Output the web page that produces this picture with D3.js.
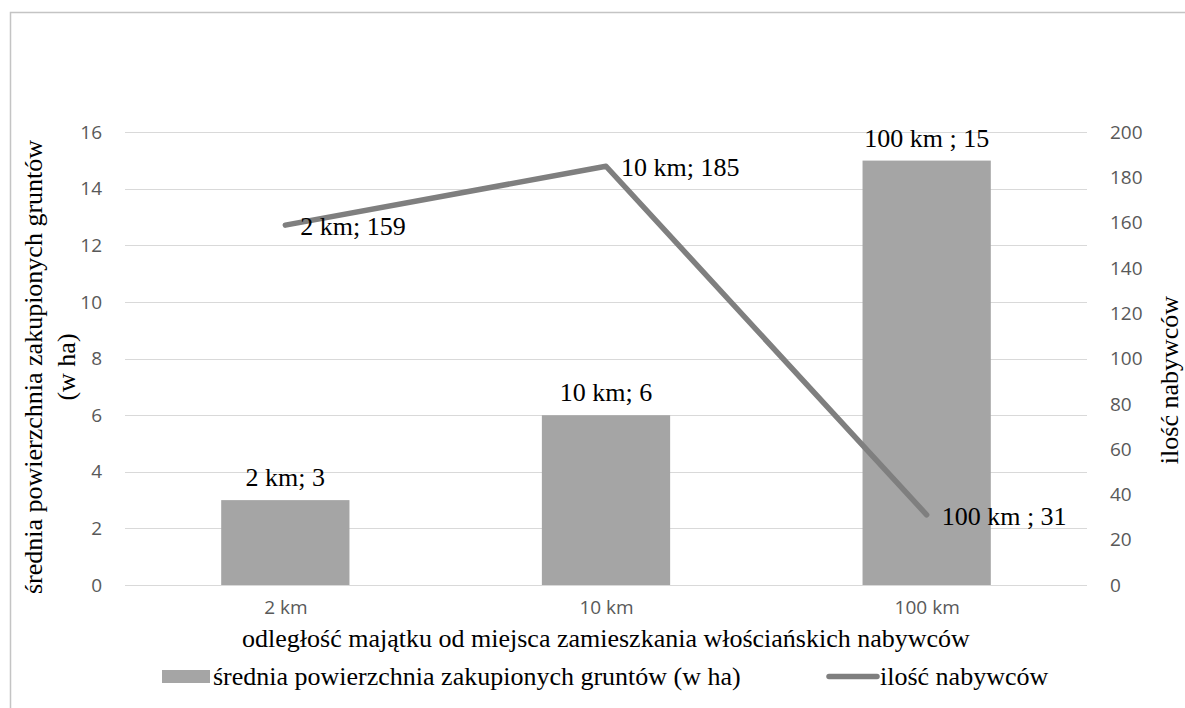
<!DOCTYPE html>
<html><head><meta charset="utf-8">
<script src="https://cdn.jsdelivr.net/npm/d3@7"></script>
<style>
html,body{margin:0;padding:0;background:#fff;}
svg{display:block;}
.serif{font-family:"Liberation Serif","Tinos","Times New Roman","DejaVu Serif",serif;}
.sans{font-family:"Open Sans","Noto Sans",sans-serif;}
</style>
</head><body>
<svg id="chart" width="1185" height="708"></svg>
<script>
const categories = ["2 km", "10 km", "100 km"];
const areaValues = [3, 6, 15];
const buyerValues = [159, 185, 31];
const barLabels = ["2 km; 3", "10 km; 6", "100 km ; 15"];
const lineLabels = ["2 km; 159", "10 km; 185", "100 km ; 31"];
const leftTicks = [0, 2, 4, 6, 8, 10, 12, 14, 16];
const rightTicks = [0, 20, 40, 60, 80, 100, 120, 140, 160, 180, 200];
const xTitle = "odległość majątku od miejsca zamieszkania włościańskich nabywców";
const yLeftTitle = ["średnia powierzchnia zakupionych gruntów", "(w ha)"];
const yRightTitle = "ilość nabywców";
const legendBar = "średnia powierzchnia zakupionych gruntów (w ha)";
const legendLine = "ilość nabywców";

const svg = d3.select("#chart");

// frame
svg.append("rect").attr("x", 10.5).attr("y", 12.5).attr("width", 1200).attr("height", 800)
  .attr("fill", "#fff").attr("stroke", "#c4c4c4").attr("stroke-width", 1.5);

const plot = {left: 125, right: 1087, top: 132.3, bottom: 585};

const x = d3.scaleBand().domain(categories).range([plot.left, plot.right]).paddingInner(0.6).paddingOuter(0.3);
const xc = d3.scalePoint().domain(categories).range([plot.left, plot.right]).padding(0.5);
const yL = d3.scaleLinear().domain([0, 16]).range([plot.bottom, plot.top]);
const yR = d3.scaleLinear().domain([0, 200]).range([plot.bottom, plot.top]);

// gridlines
svg.append("g").selectAll("line").data(leftTicks).join("line")
  .attr("x1", plot.left).attr("x2", plot.right)
  .attr("y1", d => Math.round(yL(d)) + 0.5).attr("y2", d => Math.round(yL(d)) + 0.5)
  .attr("stroke", "#d9d9d9").attr("stroke-width", 1.2);

function styleTicks(g) {
  g.select(".domain").remove();
  g.selectAll("text").attr("class", "sans").attr("font-family", null)
    .attr("font-size", 19).attr("fill", "#595959");
}

// left axis
svg.append("g").attr("transform", `translate(${plot.left},0)`)
  .call(d3.axisLeft(yL).tickValues(leftTicks).tickSize(0).tickPadding(23))
  .call(styleTicks).attr("font-family", null);

// right axis
svg.append("g").attr("transform", `translate(${plot.right},0)`)
  .call(d3.axisRight(yR).tickValues(rightTicks).tickSize(0).tickPadding(23))
  .call(styleTicks).attr("font-family", null);

// bottom axis
svg.append("g").attr("transform", `translate(0,${plot.bottom})`)
  .call(d3.axisBottom(xc).tickSize(0).tickPadding(16))
  .call(styleTicks).attr("font-family", null);

// bars
svg.append("g").selectAll("rect").data(areaValues).join("rect")
  .attr("x", (d, i) => x(categories[i]))
  .attr("width", x.bandwidth())
  .attr("y", d => yL(d))
  .attr("height", d => yL(0) - yL(d))
  .attr("fill", "#a5a5a5");

// bar labels
svg.append("g").selectAll("text").data(areaValues).join("text")
  .attr("class", "serif")
  .attr("x", (d, i) => xc(categories[i]))
  .attr("y", d => yL(d) - 14)
  .attr("text-anchor", "middle")
  .attr("font-size", 26).attr("fill", "#000")
  .text((d, i) => barLabels[i]);

// line
const line = d3.line().x((d, i) => xc(categories[i])).y(d => yR(d));
svg.append("path").datum(buyerValues).attr("d", line)
  .attr("fill", "none").attr("stroke", "#7f7f7f").attr("stroke-width", 5.5)
  .attr("stroke-linecap", "round").attr("stroke-linejoin", "round");

// line labels
svg.append("g").selectAll("text").data(buyerValues).join("text")
  .attr("class", "serif")
  .attr("x", (d, i) => xc(categories[i]) + 15)
  .attr("y", d => yR(d) + 10)
  .attr("font-size", 26).attr("fill", "#000")
  .text((d, i) => lineLabels[i]);

// x title
svg.append("text").attr("class", "serif").attr("x", (plot.left + plot.right) / 2).attr("y", 647)
  .attr("text-anchor", "middle").attr("font-size", 26).attr("fill", "#000")
  .text(xTitle);

// left y title
const lt = svg.append("text").attr("class", "serif").attr("transform", "translate(0,367) rotate(-90)")
  .attr("text-anchor", "middle").attr("font-size", 26).attr("fill", "#000");
lt.append("tspan").attr("x", 0).attr("y", 42).text(yLeftTitle[0]);
lt.append("tspan").attr("x", 0).attr("y", 75).text(yLeftTitle[1]);

// right y title
svg.append("text").attr("class", "serif").attr("transform", "translate(1178,380) rotate(-90)")
  .attr("text-anchor", "middle").attr("font-size", 26).attr("fill", "#000")
  .text(yRightTitle);

// legend
const lg = svg.append("g");
lg.append("rect").attr("x", 162).attr("y", 670).attr("width", 48).attr("height", 13).attr("fill", "#a5a5a5");
lg.append("text").attr("class", "serif").attr("x", 213).attr("y", 685).attr("font-size", 26).attr("fill", "#000").text(legendBar);
lg.append("line").attr("x1", 829).attr("x2", 877).attr("y1", 676.5).attr("y2", 676.5)
  .attr("stroke", "#7f7f7f").attr("stroke-width", 5.5).attr("stroke-linecap", "round");
lg.append("text").attr("class", "serif").attr("x", 880).attr("y", 685).attr("font-size", 26).attr("fill", "#000").text(legendLine);
</script>
</body></html>
